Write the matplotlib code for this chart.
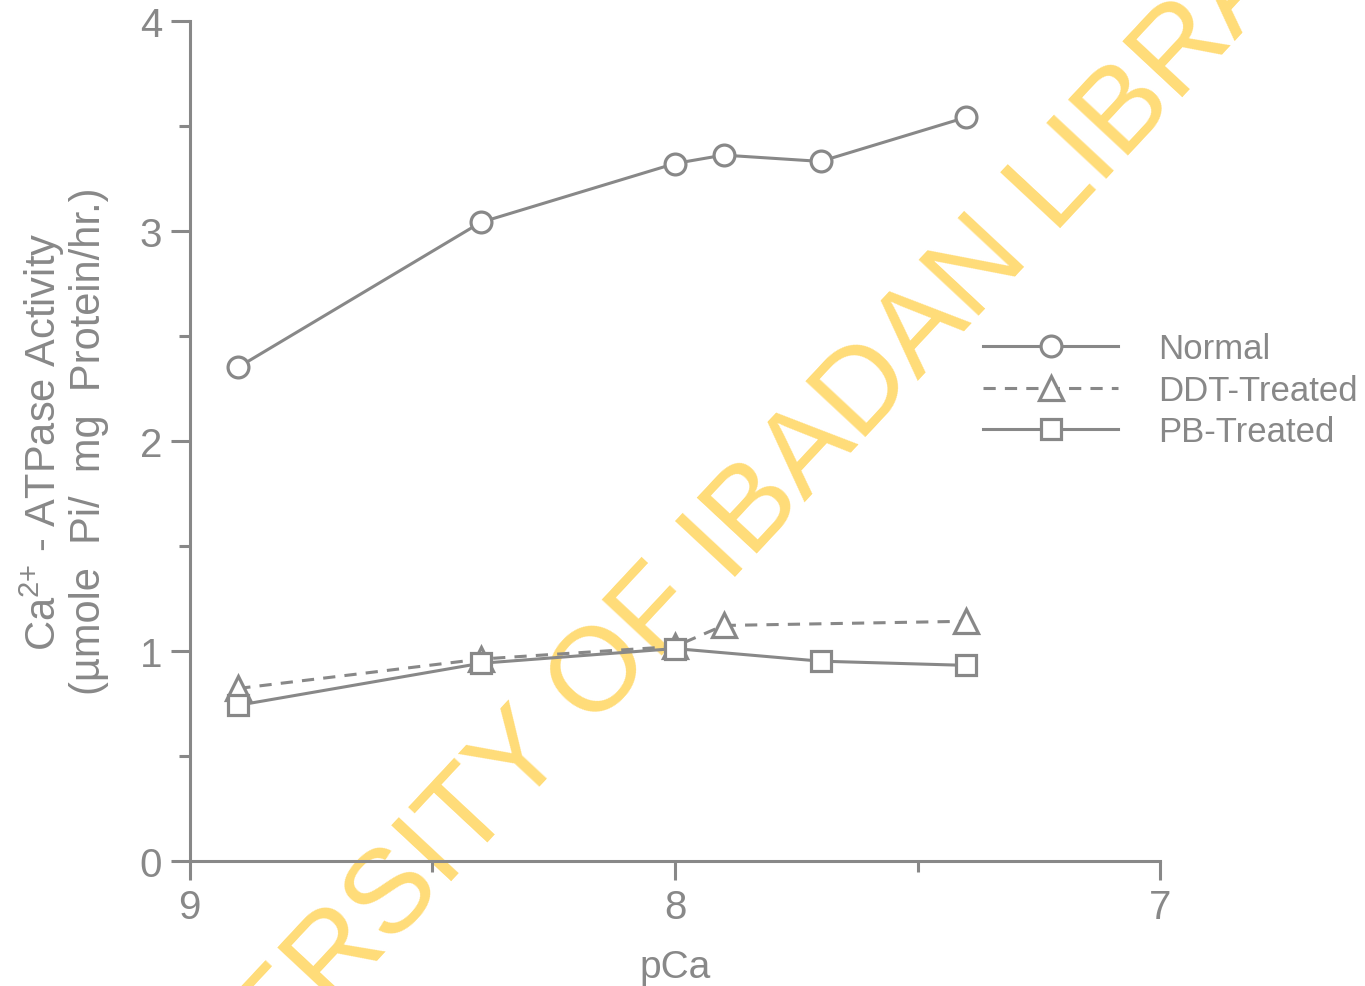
import matplotlib
matplotlib.use("Agg")
import matplotlib.pyplot as plt

# Ca2+-ATPase activity vs pCa for the three groups
pca_normal = [8.9, 8.4, 8.0, 7.9, 7.7, 7.4]
act_normal = [2.35, 3.04, 3.32, 3.36, 3.33, 3.54]

pca_ddt = [8.9, 8.4, 8.0, 7.9, 7.4]
act_ddt = [0.82, 0.96, 1.02, 1.12, 1.14]

pca_pb = [8.9, 8.4, 8.0, 7.7, 7.4]
act_pb = [0.74, 0.94, 1.01, 0.95, 0.93]

x_ticks = [9, 8, 7]
y_ticks = [0, 1, 2, 3, 4]

grey = "#888888"
plt.rcParams["font.family"] = ["Liberation Sans", "DejaVu Sans"]
plt.rcParams["mathtext.fontset"] = "custom"
plt.rcParams["mathtext.rm"] = "Liberation Sans"
plt.rcParams["mathtext.it"] = "Liberation Sans:italic"

fig = plt.figure(figsize=(13.65, 9.87), dpi=100)
ax = fig.add_axes([0.139, 0.127, 0.711, 0.851])
ax.patch.set_facecolor("none")

common = dict(color=grey, lw=2.2, markerfacecolor="white",
              markeredgecolor=grey, markeredgewidth=2.3)
ax.plot(pca_normal, act_normal, marker="o", ms=15, ls="-", label="Normal", **common)
ax.plot(pca_ddt, act_ddt, marker="^", ms=17, ls=(0, (4, 3)), label="DDT-Treated", **common)
ax.plot(pca_pb, act_pb, marker="s", ms=15, ls="-", label="PB-Treated", **common)

ax.set_xlim(9, 7)
ax.set_ylim(0, 4)
ax.set_xticks(x_ticks)
ax.set_xticks([8.5, 7.5], minor=True)
ax.set_yticks(y_ticks)
ax.set_yticks([0.5, 1.5, 2.5, 3.5], minor=True)

for s in ["top", "right"]:
    ax.spines[s].set_visible(False)
for s in ["left", "bottom"]:
    ax.spines[s].set_color(grey)
    ax.spines[s].set_linewidth(2.2)

ax.tick_params(which="major", direction="out", length=14, width=2.2, colors=grey,
               labelsize=29, labelcolor=grey, pad=6)
ax.tick_params(which="minor", direction="out", length=8, width=2.2, colors=grey)

ax.set_xlabel("pCa", fontsize=28, color=grey, labelpad=16)
ax.set_ylabel("Ca$^{2{+}}$ - ATPase Activity\n(\u00b5mole  Pi/  mg  Protein/hr.)",
              fontsize=30, color=grey, labelpad=22, linespacing=1.05)

leg = ax.legend(loc="center left", bbox_to_anchor=(0.785, 0.56), frameon=False,
                fontsize=25, handlelength=3.9, handletextpad=1.15, labelspacing=0.25)
for t in leg.get_texts():
    t.set_color(grey)

# library watermark across the page, behind the data
fig.text(0.527, 0.443, "UNIVERSITY OF IBADAN LIBRARY", fontsize=86, color="#ffdc78",
         rotation=47, ha="center", va="center", zorder=-1)

fig.savefig("out.png", dpi=100)
